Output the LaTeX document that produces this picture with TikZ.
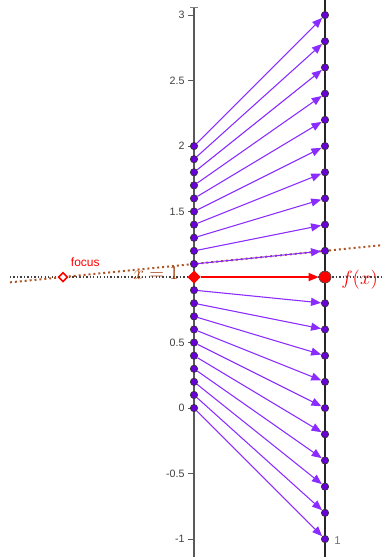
\documentclass[tikz,border=0pt]{standalone}
\usepackage{fontspec}
\newfontfamily\labfont{Liberation Sans}
\usetikzlibrary{arrows.meta,shapes.geometric}
\definecolor{arrcol}{RGB}{138,43,255}
\definecolor{ptcol}{RGB}{105,0,215}
\definecolor{brn}{RGB}{175,85,35}
\definecolor{brntext}{RGB}{160,60,10}
\definecolor{ggred}{RGB}{255,0,0}
\tikzset{
  pt/.style={circle,inner sep=0pt,minimum size=5.5pt,fill=ptcol,draw=black!80,line width=0.5pt},
  varrow/.style={draw=arrcol,line width=0.8pt,-{Triangle[length=7.5pt,width=6pt]}},
  ticklab/.style={anchor=east,inner sep=1pt,text=black!75,font=\labfont\fontsize{8}{9}\selectfont},
  axisl/.style={draw=black!65,line width=1.1pt},
}
\begin{document}
\begin{tikzpicture}[x=98.25pt,y=98.25pt]
\useasboundingbox (-1.481,-1.137) rectangle (1.435,3.115);
% axes
\coordinate (la1) at (0,3.06);
\coordinate (la2) at (0,-1.137);
\coordinate (ra1) at (1,3.115);
\coordinate (ra2) at (1,-1.137);
\draw[axisl] (la1) -- (la2);
\draw[axisl,draw=black!85] (ra1) -- (ra2);
\coordinate (tt1) at (-0.03,3.06);
\coordinate (tt2) at (0.03,3.06);
\draw[black!50,line width=0.5pt] (tt1) -- (tt2);
% ticks
\foreach \v/\t [count=\k] in {3/3,2.5/2.5,2/2,1.5/1.5,0.5/0.5,0/0,-0.5/-0.5,-1/-1}{
  \coordinate (tk\k) at (0,\v);
  \coordinate (tka\k) at (-0.045,\v);
  \draw[black!65,line width=0.6pt] (tka\k) -- (tk\k);
  \node[ticklab] (tl\k) at (-0.06,\v) {\t};
}
% dotted horizontal line
\coordinate (h1) at (-1.405,1);
\coordinate (h2) at (1.435,1);
\draw[black!75,line width=1pt,dash pattern=on 1pt off 1.6pt] (h1) -- (h2);
% brown dotted line through focus
\coordinate (b1) at (-1.405,0.9595);
\coordinate (b2) at (1.435,1.2435);
\draw[brn,line width=1.5pt,dash pattern=on 1.5pt off 2.2pt] (b1) -- (b2);
% points
\foreach \i in {0,...,20}{
  \pgfmathsetmacro\yl{\i/10}
  \pgfmathsetmacro\yr{2*\i/10-1}
  \ifnum\i=10\relax
  \else
    \node[pt] (L\i) at (0,\yl) {};
    \node[pt] (R\i) at (1,\yr) {};
  \fi
}
\node[diamond,fill=ggred,inner sep=0pt,minimum size=10pt] (L10) at (0,1) {};
\node[circle,fill=ggred,draw=black!70,line width=0.5pt,inner sep=0pt,minimum size=9pt] (R10) at (1,1) {};
% arrows
\foreach \i in {0,...,9,11,12,...,20}{
  \draw[varrow] (L\i) -- (R\i);
}
\draw[draw=ggred,line width=1.1pt,-{Triangle[length=7.5pt,width=6pt]}] (L10) -- (R10);
% focus
\node[diamond,draw=ggred,fill=white,line width=1.2pt,inner sep=0pt,minimum size=7pt] (F) at (-1,1) {};
\node[text=ggred,font=\labfont\fontsize{9}{10}\selectfont] (flab) at (-0.83,1.115) {focus};
% labels
\node[text=brntext,font=\fontsize{14}{15}\selectfont] (xeq) at (-0.29,1.03) {$x = 1$};
\node[text=ggred,font=\fontsize{14}{15}\selectfont] (fx) at (1.265,0.98) {$f(x)$};
\node[text=black!55,font=\labfont\fontsize{8.5}{9}\selectfont] (one) at (1.095,-1.012) {1};
\end{tikzpicture}
\end{document}
